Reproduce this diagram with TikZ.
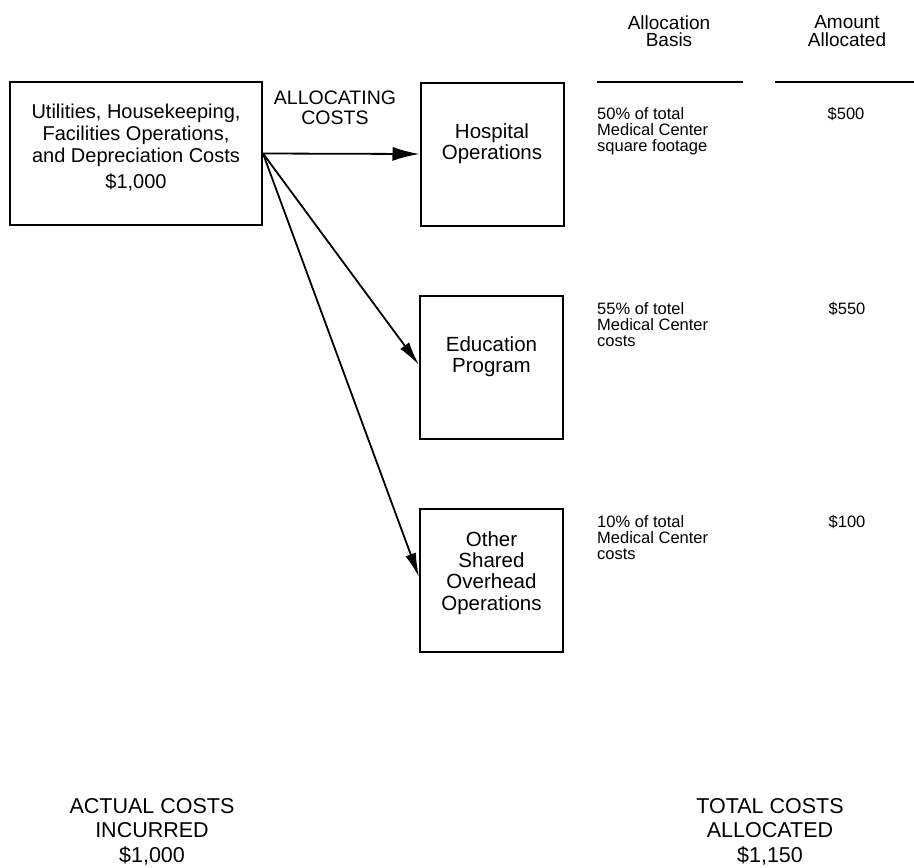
\documentclass[tikz,border=0pt]{standalone}
\usepackage{fontspec}
\setmainfont{Liberation Sans}
\usetikzlibrary{arrows.meta}
\begin{document}
\begin{tikzpicture}[x=1pt,y=-1pt,
  box/.style={draw, line width=2pt, inner sep=0pt, minimum width=143pt, minimum height=143pt},
  conn/.style={line width=1.8pt, -{Latex[length=24pt,width=11pt]}},
  hconn/.style={line width=1.8pt, -{Latex[length=27pt,width=14pt]}},
  bigtxt/.style={inner sep=0pt, align=center, anchor=north, font=\fontsize{20}{22}\selectfont},
  boxtxt/.style={inner sep=0pt, align=center, anchor=north, font=\fontsize{20.5}{21.3}\selectfont},
  headtxt/.style={inner sep=0pt, align=center, anchor=north, font=\fontsize{19}{17.5}\selectfont},
  basistxt/.style={inner sep=0pt, align=left, anchor=north west, font=\fontsize{16.5}{16}\selectfont},
  amttxt/.style={inner sep=0pt, anchor=base, font=\fontsize{16.5}{16}\selectfont},
  foottxt/.style={inner sep=0pt, align=center, anchor=north, font=\fontsize{21.5}{24.5}\selectfont},
  rule/.style={line width=2.4pt}]
\useasboundingbox (0,0) rectangle (914,868);

% boxes
\node[box, minimum width=252pt] (src) at (136,153.5) {};
\node[box] (hosp) at (492,154) {};
\node[box] (edu) at (491.5,367) {};
\node[box] (oth) at (491.5,580) {};

% box texts
\node[bigtxt] (srct) at (136,103.6) {Utilities, Housekeeping,\\Facilities Operations,\\and Depreciation Costs\\[4pt]\$1,000};
\node[bigtxt, font=\fontsize{19.5}{20}\selectfont] (alloc) at (335,91) {ALLOCATING\\COSTS};
\node[boxtxt] (hospt) at (492,123.2) {Hospital\\Operations};
\node[boxtxt] (edut) at (491.5,336.2) {Education\\Program};
\node[boxtxt] (otht) at (491.5,531.2) {Other\\Shared\\Overhead\\Operations};

% connectors
\draw[hconn] (src.east) -- (hosp.west);
\draw[conn] (src.east) -- ([yshift=2pt]edu.west);
\draw[conn] (src.east) -- ([yshift=3pt]oth.west);

% headers
\node[headtxt] (hbasis) at (669,15.5) {Allocation\\Basis};
\node[headtxt] (hamt) at (847,15.5) {Amount\\Allocated};
\coordinate (r1a) at (597,82);
\coordinate (r1b) at (743,82);
\coordinate (r2a) at (775,82);
\coordinate (r2b) at (914,82);
\draw[rule] (r1a) -- (r1b);
\draw[rule] (r2a) -- (r2b);

% allocation basis column
\node[basistxt] (b1) at (597,107.1) {50\% of total\\Medical Center\\square footage};
\node[basistxt] (b2) at (597,302.1) {55\% of totel\\Medical Center\\costs};
\node[basistxt] (b3) at (597,515.1) {10\% of total\\Medical Center\\costs};

% amounts
\node[amttxt] (a1) at (846,119) {\$500};
\node[amttxt] (a2) at (847,314) {\$550};
\node[amttxt] (a3) at (847,527) {\$100};

% footer
\node[foottxt] (actual) at (152,798) {ACTUAL COSTS\\INCURRED\\\$1,000};
\node[foottxt] (total) at (770,798) {TOTAL COSTS\\ALLOCATED\\\$1,150};
\end{tikzpicture}
\end{document}
